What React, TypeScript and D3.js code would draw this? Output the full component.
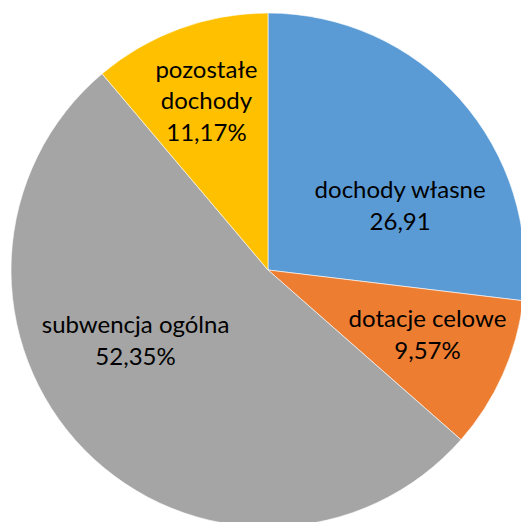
import * as d3 from "d3";
import {useEffect, useRef} from "react";

// slices, clockwise from 12 o'clock
const categories = ["dochody własne", "dotacje celowe", "subwencja ogólna", "pozostałe dochody"];
const values = [26.91, 9.57, 52.35, 11.17];
const valueLabels = ["26,91", "9,57%", "52,35%", "11,17%"];
const colors = ["#5B9BD5", "#ED7D31", "#A5A5A5", "#FFC000"];

// label layout (angle from north in degrees, distance from centre) - like excel best fit
const labelAngle = [64, 112, 242, 340];
const labelRadius = [147, 172, 150, 180];

const W = 521, H = 522;

const App = () => {
    const ref = useRef<SVGSVGElement>(null);

    useEffect(() => {
        document.body.style.margin = "0";
        const svg = d3.select(ref.current);
        svg.selectAll("*").remove();

        const cx = 268, cy = 270, r = 257;

        const pie = d3.pie<number>().sort(null).value(d => d);
        const arc = d3.arc<d3.PieArcDatum<number>>().innerRadius(0).outerRadius(r);
        const arcs = pie(values);

        const g = svg.append("g").attr("transform", `translate(${cx},${cy})`);

        g.selectAll("path")
            .data(arcs)
            .enter()
            .append("path")
            .attr("d", arc)
            .attr("fill", (d, i) => colors[i])
            .attr("stroke", "#fff")
            .attr("stroke-width", 0.6);

        const lines = categories.map((c, i) => {
            if (i === 3) return ["pozostałe", "dochody", valueLabels[i]];
            return [c, valueLabels[i]];
        });

        const lineH = 31.5;
        const labels = g.selectAll("text.lbl")
            .data(arcs)
            .enter()
            .append("text")
            .attr("class", "lbl")
            .attr("text-anchor", "middle")
            .attr("font-family", "Lato, 'Open Sans', sans-serif")
            .attr("font-size", 24)
            .attr("fill", "#000")
            .attr("transform", (d, i) => {
                const a = labelAngle[i] * Math.PI / 180;
                const x = Math.sin(a) * labelRadius[i];
                const y = -Math.cos(a) * labelRadius[i];
                return `translate(${x},${y})`;
            });

        labels.each(function (d, i) {
            const t = d3.select(this);
            const ls = lines[i];
            const off = -(ls.length - 1) * lineH / 2;
            ls.forEach((s, k) => {
                t.append("tspan")
                    .attr("x", 0)
                    .attr("y", off + k * lineH)
                    .attr("dy", "0.35em")
                    .text(s);
            });
        });
    }, []);

    return <svg ref={ref} width={W} height={H} style={{display: "block"}}/>;
}

export default App
